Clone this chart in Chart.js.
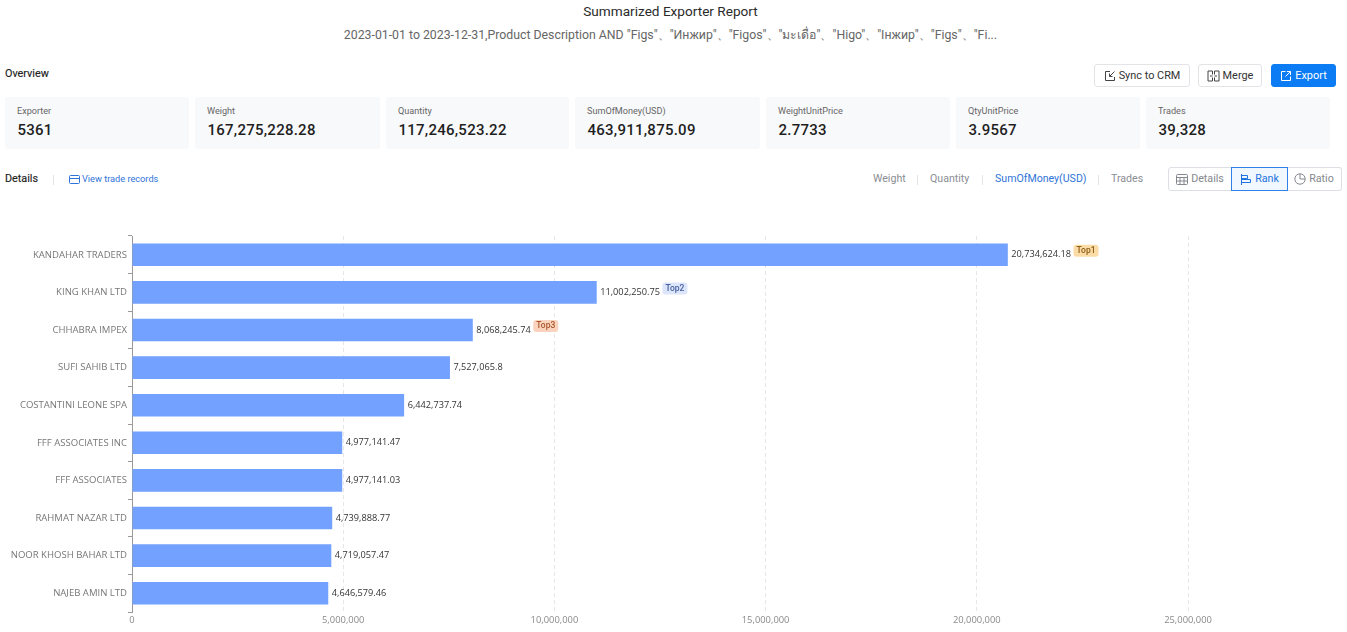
<!DOCTYPE html>
<html>
<head>
<meta charset="utf-8">
<script src="https://cdn.jsdelivr.net/npm/chart.js@4/dist/chart.umd.min.js"></script>
<style>
    html, body { margin: 0; padding: 0; background: #fff; overflow: hidden; }
    body { width: 1347px; height: 632px; position: relative; font-family: Roboto, sans-serif; color: #333; }
    .abs { position: absolute; white-space: nowrap; }
    .title { left: 0; width: 1341px; top: 3px; text-align: center; font-size: 13.6px; line-height: 17px; color: #2b2b2b; }
    .sub { left: 0; width: 1341px; top: 26px; text-align: center; font-size: 12.3px; line-height: 18px; color: #666; }
    .head { font-size: 10.8px; font-weight: 400; color: #222; -webkit-text-stroke: .15px #222; }
    .card { position: absolute; top: 97px; height: 52px; background: #f8f9fb; border-radius: 3px; }
    .card .k { position: absolute; left: 12px; top: 8px; font-size: 9.1px; line-height: 13px; color: #666; }
    .card .v { position: absolute; left: 12.5px; top: 23px; font-size: 15px; line-height: 20px; font-weight: 500; color: #1f1f1f; letter-spacing: .25px; }
    .btn { position: absolute; top: 64px; height: 21px; border: 1px solid #e2e4e8; border-radius: 3px; background: #fff; font-size: 10.9px; line-height: 21px; color: #333; display: flex; align-items: center; justify-content: center; gap: 3px; }
    .btn.blue { background: #0b7cf3; border-color: #0b7cf3; color: #fff; }
    .tab { position: absolute; top: 171px; font-size: 10.6px; line-height: 16px; color: #8a8d93; }
    .sep { position: absolute; top: 175px; width: 1px; height: 10px; background: #e4e4e4; }
    .seg { position: absolute; top: 167px; height: 22px; border: 1px solid #dcdfe4; font-size: 10.7px; line-height: 22px; color: #85888e; display: flex; align-items: center; justify-content: center; gap: 3px; box-sizing: content-box; }
    .seg.on { border-color: #2f80e8; background: #f1f7ff; color: #1f74e0; z-index: 1; }
    svg { display: block; }
    #wrap { position: absolute; left: 0; top: 220px; width: 1347px; height: 412px; }
</style>
</head>
<body>
<div class="abs title">Summarized Exporter Report</div>
<div class="abs sub">2023-01-01 to 2023-12-31,Product Description AND "Figs"、"Инжир"、"Figos"、"มะเดื่อ"、"Higo"、"Інжир"、"Figs"、"Fi...</div>

<div class="abs head" style="left:5px;top:67px">Overview</div>
<div class="btn" style="left:1094px;width:94px">
    <svg width="12" height="12" viewBox="0 0 12 12" fill="none" stroke="#444"><path d="M6 1.5H1.5v9h9V7M10.5 1.5 5.5 6.5M5.5 3.5v3h3"/></svg>Sync to CRM</div>
<div class="btn" style="left:1198px;width:62px">
    <svg width="13" height="12" viewBox="0 0 13 12" fill="none" stroke="#444"><path d="M1 1h4.5v3.5M1 1v10h4.5V7.5M12 1H7.5v3.5M12 1v10H7.5V7.5M3 6h2.5M10 6H7.5"/></svg>Merge</div>
<div class="btn blue" style="left:1271px;width:63px">
    <svg width="12" height="12" viewBox="0 0 12 12" fill="none" stroke="#fff"><path d="M5.5 1.5h-4v9h9v-4M7 1.5h3.5V5M10.5 1.5 5.5 6.5"/></svg>Export</div>

<div id="cards"></div>

<div class="abs head" style="left:5px;top:172px">Details</div>
<div class="sep" style="left:53px"></div>
<svg class="abs" style="left:69px;top:175px" width="11" height="10" viewBox="0 0 11 10" fill="none" stroke="#2f74d8"><rect x=".5" y=".5" width="10" height="8" rx="1"/><path d="M.5 3.5h10"/></svg>
<div class="abs" style="left:82px;top:172px;font-size:9.2px;line-height:14px;color:#2f74d8">View trade records</div>

<div class="tab" style="left:873px">Weight</div>
<div class="sep" style="left:917px"></div>
<div class="tab" style="left:930px">Quantity</div>
<div class="sep" style="left:982px"></div>
<div class="tab" style="left:995px;color:#2f74d8">SumOfMoney(USD)</div>
<div class="sep" style="left:1098px"></div>
<div class="tab" style="left:1111px">Trades</div>

<div class="seg" style="left:1168px;width:62px;border-radius:3px 0 0 3px">
    <svg width="12" height="11" viewBox="0 0 12 11" fill="none" stroke="#85888e"><rect x=".5" y=".5" width="11" height="10" rx="1"/><path d="M.5 3.5h11M.5 7h11M4 3.5v7M8 3.5v7"/></svg>Details</div>
<div class="seg on" style="left:1231px;width:55px">
    <svg width="12" height="11" viewBox="0 0 12 11" fill="none" stroke="#1f74e0"><path d="M1.5 0v11M1.5 1.5h6v3h-6M1.5 5.5h9v3h-9"/></svg>Rank</div>
<div class="seg" style="left:1287px;width:54px;border-radius:0 3px 3px 0;border-left:0">
    <svg width="12" height="12" viewBox="0 0 12 12" fill="none" stroke="#85888e"><circle cx="6" cy="6" r="5.2"/><path d="M6 1v5h5"/></svg>Ratio</div>

<div id="wrap"><canvas id="main-chart"></canvas></div>

<script>
const exporters = ['KANDAHAR TRADERS', 'KING KHAN LTD', 'CHHABRA IMPEX', 'SUFI SAHIB LTD', 'COSTANTINI LEONE SPA',
    'FFF ASSOCIATES INC', 'FFF ASSOCIATES', 'RAHMAT NAZAR LTD', 'NOOR KHOSH BAHAR LTD', 'NAJEB AMIN LTD'];
const sumOfMoney = [20734624.18, 11002250.75, 8068245.74, 7527065.8, 6442737.74,
    4977141.47, 4977141.03, 4739888.77, 4719057.47, 4646579.46];
const xTicks = [0, 5000000, 10000000, 15000000, 20000000, 25000000];
const topBadges = ['Top1', 'Top2', 'Top3'];
const badgeColors = [['#fbdca6', '#8a5a12'], ['#dde5fa', '#44609f'], ['#f9d3bd', '#a8552a']];
const cardNames = ['Exporter', 'Weight', 'Quantity', 'SumOfMoney(USD)', 'WeightUnitPrice', 'QtyUnitPrice', 'Trades'];
const cardValues = ['5361', '167,275,228.28', '117,246,523.22', '463,911,875.09', '2.7733', '3.9567', '39,328'];
const cardLefts = [5, 195, 386, 575, 766, 956, 1146];
const cardWidths = [184, 185, 183, 185, 184, 184, 184];

const cards = document.getElementById('cards');
cardNames.forEach((name, i) => {
    const el = document.createElement('div');
    el.className = 'card';
    el.style.left = cardLefts[i] + 'px';
    el.style.width = cardWidths[i] + 'px';
    el.innerHTML = '<div class="k">' + name + '</div><div class="v">' + cardValues[i] + '</div>';
    cards.appendChild(el);
});

const fmt = v => v.toLocaleString('en-US', { maximumFractionDigits: 2 });
const labelFont = '9.2px "Open Sans", sans-serif';

// value labels and the Top1/2/3 tags at the end of the bars
const barLabels = {
    id: 'barLabels',
    afterDatasetsDraw(chart) {
        const ctx = chart.ctx;
        ctx.save();
        ctx.textBaseline = 'middle';
        chart.getDatasetMeta(0).data.forEach((bar, i) => {
            const text = fmt(sumOfMoney[i]);
            ctx.font = labelFont;
            ctx.fillStyle = '#333';
            ctx.textAlign = 'left';
            ctx.fillText(text, bar.x + 3.5, bar.y);
            if (i < topBadges.length) {
                const w = ctx.measureText(text).width;
                const x = bar.x + 3.5 + w + 2.5;
                ctx.fillStyle = badgeColors[i][0];
                ctx.beginPath();
                ctx.roundRect(x, bar.y - 10, 25, 12, 3);
                ctx.fill();
                ctx.font = '500 8.5px Roboto, sans-serif';
                ctx.fillStyle = badgeColors[i][1];
                ctx.textAlign = 'center';
                ctx.fillText(topBadges[i], x + 12.5, bar.y - 4);
            }
        });
        ctx.restore();
    }
};

new Chart(document.getElementById('main-chart'), {
    type: 'bar',
    data: {
        labels: exporters,
        datasets: [{
            data: sumOfMoney,
            backgroundColor: '#73a1ff',
            borderWidth: 0,
            categoryPercentage: 0.6,
            barPercentage: 1
        }]
    },
    options: {
        indexAxis: 'y',
        responsive: true,
        maintainAspectRatio: false,
        animation: false,
        layout: { padding: { top: 16, right: 159, left: 0, bottom: 0 } },
        plugins: { legend: { display: false }, tooltip: { enabled: false } },
        scales: {
            x: {
                min: 0,
                max: 25000000,
                afterFit: s => { s.height = 20; },
                afterBuildTicks: s => { s.ticks = xTicks.map(v => ({ value: v })); },
                border: { display: false, dash: [4, 3] },
                grid: {
                    color: c => c.tick.value === 0 ? 'transparent' : '#e6e6e6',
                    drawTicks: false
                },
                ticks: {
                    maxRotation: 0,
                    padding: 3,
                    color: '#8a8a8a',
                    font: { family: '"Open Sans", sans-serif', size: 9.4 },
                    callback: v => v.toLocaleString('en-US')
                }
            },
            y: {
                afterFit: s => { s.width = 132; },
                border: { display: true, color: '#9a9a9a', width: 1 },
                grid: { display: true, drawOnChartArea: false, drawTicks: true, tickLength: 4, color: '#9a9a9a' },
                ticks: {
                    padding: 1,
                    color: '#777',
                    font: { family: '"Open Sans", sans-serif', size: 9.55 }
                }
            }
        }
    },
    plugins: [barLabels]
});
</script>
</body>
</html>
